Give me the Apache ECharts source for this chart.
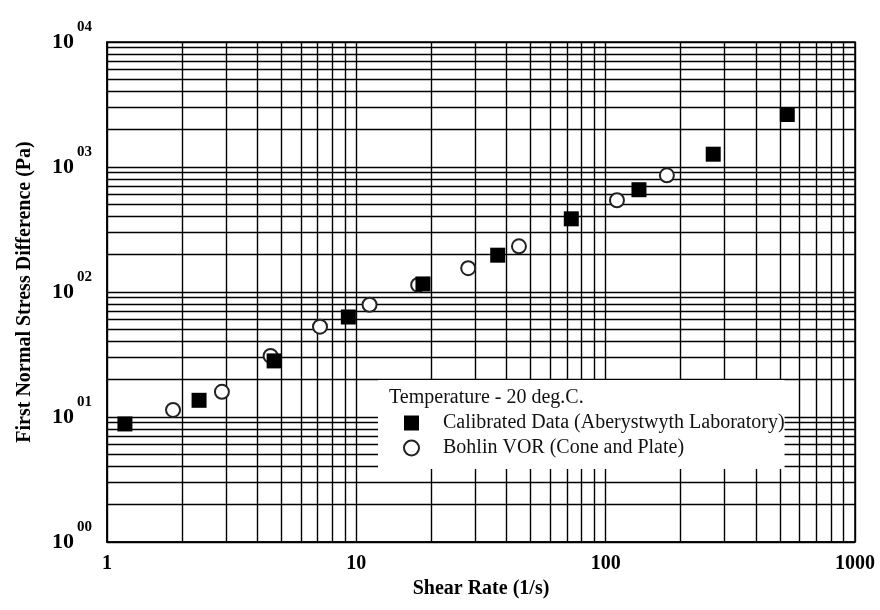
<!DOCTYPE html>
<html>
<head>
<meta charset="utf-8">
<script src="https://cdn.jsdelivr.net/npm/echarts@6/dist/echarts.min.js"></script>
<style>
  html, body { margin: 0; padding: 0; background: #fff; }
  #chart { width: 880px; height: 610px; }
</style>
</head>
<body>
<div id="chart"></div>
<script>
// First normal stress difference (Pa) against shear rate (1/s), 20 deg.C.
const calibratedShear = [1.18, 2.34, 4.68, 9.29, 18.5, 36.9, 72.8, 136, 270, 535];
const calibratedN1    = [8.8, 13.6, 28.1, 63.1, 116, 197, 385, 658, 1266, 2630];
const bohlinShear     = [1.84, 2.89, 4.53, 7.15, 11.3, 17.7, 28.1, 44.9, 111, 176];
const bohlinN1        = [11.4, 15.9, 30.8, 52.8, 79.1, 114, 155, 232, 542, 858];

const xRange = [1, 1000];
const yRange = [1, 10000];
const yTickExponents = ['00', '01', '02', '03', '04'];

const legendTitle = 'Temperature - 20 deg.C.';
const seriesNames = ['Calibrated Data (Aberystwyth Laboratory)', 'Bohlin VOR (Cone and Plate)'];
const xTitle = 'Shear Rate (1/s)';
const yTitle = 'First Normal Stress Difference (Pa)';

const serif = '"Liberation Serif", "Times New Roman", serif';
const ink = '#000';

// 2..9 multiples inside each decade, for the log-paper minor rulings
function minorRulings(lo, hi) {
  const out = [];
  for (let d = lo; d < hi; d *= 10) {
    for (let k = 2; k <= 9; k++) out.push(d * k);
  }
  return out;
}
const zip = (a, b) => a.map((v, i) => [v, b[i]]);

const rulingStyle = { color: ink, width: 1.4, type: 'solid' };
const minorLines = [
  ...minorRulings(xRange[0], xRange[1]).map(v => ({ xAxis: v })),
  ...minorRulings(yRange[0], yRange[1]).map(v => ({ yAxis: v }))
];

const chart = echarts.init(document.getElementById('chart'), null, { renderer: 'canvas' });
chart.setOption({
  animation: false,
  backgroundColor: '#fff',
  grid: {
    left: 107, right: 25, top: 42, bottom: 68,
    show: true, borderColor: ink, borderWidth: 1.5, backgroundColor: 'transparent'
  },
  xAxis: {
    type: 'log', logBase: 10, min: xRange[0], max: xRange[1],
    name: xTitle, nameLocation: 'middle', nameGap: 29,
    nameTextStyle: { fontFamily: serif, fontWeight: 'bold', fontSize: 20, color: ink },
    axisLine: { show: true, lineStyle: { color: ink, width: 1.5 } },
    axisTick: { show: false },
    axisLabel: {
      margin: 12, fontFamily: serif, fontWeight: 'bold', fontSize: 20, color: ink,
      formatter: v => String(Math.round(v))
    },
    splitLine: { show: true, lineStyle: rulingStyle }
  },
  yAxis: {
    type: 'log', logBase: 10, min: yRange[0], max: yRange[1],
    name: yTitle, nameLocation: 'middle', nameGap: 72, nameRotate: 90,
    nameTextStyle: { fontFamily: serif, fontWeight: 'bold', fontSize: 20, color: ink },
    axisLine: { show: true, lineStyle: { color: ink, width: 1.5 } },
    axisTick: { show: false },
    axisLabel: {
      margin: 15, color: ink,
      formatter: v => '{b|10}{s|' + yTickExponents[Math.round(Math.log10(v))] + '}',
      rich: {
        b: { fontFamily: serif, fontWeight: 'bold', fontSize: 22, lineHeight: 22, verticalAlign: 'middle', color: ink },
        s: { fontFamily: serif, fontWeight: 'bold', fontSize: 15, lineHeight: 15, padding: [0, 0, 30, 3], verticalAlign: 'middle', color: ink }
      }
    },
    splitLine: { show: true, lineStyle: rulingStyle }
  },
  legend: {
    orient: 'vertical', left: 378, top: 380,
    backgroundColor: '#fff', padding: [33, 0, 11, 25],
    itemWidth: 15, itemHeight: 15, itemGap: 5,
    textStyle: { fontFamily: serif, fontSize: 20, lineHeight: 20, color: '#111', padding: [0, 0, 0, 19] },
    data: [
      { name: seriesNames[0], icon: 'rect' },
      { name: seriesNames[1] }
    ]
  },
  graphic: {
    elements: [{
      type: 'text', left: 389, top: 388, z: 10,
      style: { text: legendTitle, font: '20px ' + serif, fill: '#111' }
    }]
  },
  series: [
    {
      // minor rulings of the log paper
      type: 'line', data: [], silent: true,
      markLine: {
        z: 1, silent: true, symbol: ['none', 'none'], animation: false,
        label: { show: false }, lineStyle: rulingStyle,
        emphasis: { disabled: true },
        data: minorLines
      }
    },
    {
      type: 'scatter', name: seriesNames[1], z: 3,
      symbol: 'emptyCircle', symbolSize: 14,
      itemStyle: { color: '#222', borderWidth: 1, opacity: 1 },
      data: zip(bohlinShear, bohlinN1)
    },
    {
      type: 'scatter', name: seriesNames[0], z: 4,
      symbol: 'rect', symbolSize: 15,
      itemStyle: { color: ink, opacity: 1 },
      data: zip(calibratedShear, calibratedN1)
    }
  ]
});
</script>
</body>
</html>
